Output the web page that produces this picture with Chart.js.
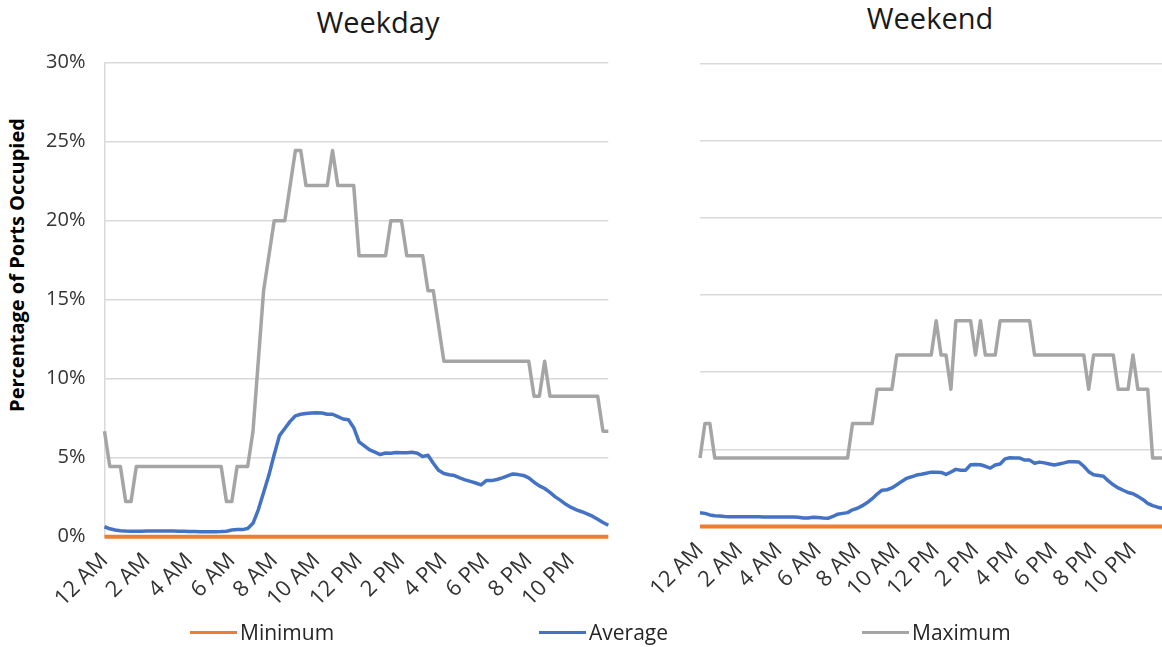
<!DOCTYPE html>
<html>
<head>
<meta charset="utf-8">
<script src="https://cdn.jsdelivr.net/npm/chart.js@4/dist/chart.umd.min.js"></script>
<style>
  html, body { margin: 0; padding: 0; background: #fff; overflow: hidden; width: 1162px; height: 647px; }
  #page { position: relative; width: 1162px; height: 647px; font-family: "Open Sans", sans-serif; color: #262626; }
  .panel { position: absolute; top: 0; }
  .title { position: absolute; width: 300px; text-align: center; font-size: 29px; line-height: 38px; color: #1a1a1a; }
  #ytitle { position: absolute; left: 17px; top: 265px; width: 360px; margin-left: -180px; margin-top: -14px;
            text-align: center; font-size: 20px; font-weight: bold; line-height: 28px; color: #000;
            transform: rotate(-90deg); white-space: nowrap; }
  .legend-item { position: absolute; top: 618px; height: 28px; display: flex; align-items: center; font-size: 21px; color: #262626; }
  .swatch { width: 47px; height: 3px; margin-right: 3px; }
</style>
</head>
<body>
<div id="page">
  <div class="title" style="left:228px; top:3px;">Weekday</div>
  <div class="title" style="left:780px; top:-1px;">Weekend</div>
  <div id="ytitle">Percentage of Ports Occupied</div>

  <div class="panel" style="left:0; width:620px; height:640px;"><canvas id="weekday" width="620" height="640"></canvas></div>
  <div class="panel" style="left:620px; width:550px; height:640px;"><canvas id="weekend" width="550" height="640"></canvas></div>

  <div class="legend-item" style="left:190px;"><span class="swatch" style="background:#ED7D31"></span>Minimum</div>
  <div class="legend-item" style="left:539px;"><span class="swatch" style="background:#4472C4"></span>Average</div>
  <div class="legend-item" style="left:862px;"><span class="swatch" style="background:#A5A5A5"></span>Maximum</div>
</div>

<script>
// Axis labels shown every two hours (one label per 8 quarter-hour slots)
const tickLabels = ["12 AM", "2 AM", "4 AM", "6 AM", "8 AM", "10 AM", "12 PM", "2 PM", "4 PM", "6 PM", "8 PM", "10 PM"];
const slotsPerLabel = 8;
const slotCount = 96;

// Weekday occupancy (% of ports), 15-minute slots starting at midnight
const weekdayMin = [
  0,0,0,0,0,0,0,0, 0,0,0,0,0,0,0,0, 0,0,0,0,0,0,0,0, 0,0,0,0,0,0,0,0,
  0,0,0,0,0,0,0,0, 0,0,0,0,0,0,0,0, 0,0,0,0,0,0,0,0, 0,0,0,0,0,0,0,0,
  0,0,0,0,0,0,0,0, 0,0,0,0,0,0,0,0, 0,0,0,0,0,0,0,0, 0,0,0,0,0,0,0,0
];
const weekdayAvg = [
  0.63, 0.50, 0.42, 0.38, 0.36, 0.35, 0.35, 0.35,
  0.36, 0.36, 0.36, 0.36, 0.36, 0.36, 0.35, 0.34,
  0.33, 0.33, 0.32, 0.32, 0.32, 0.32, 0.33, 0.35,
  0.42, 0.45, 0.45, 0.52, 0.85, 1.70, 2.80, 3.90,
  5.20, 6.40, 6.85, 7.30, 7.65, 7.75, 7.80, 7.83,
  7.85, 7.83, 7.75, 7.75, 7.60, 7.45, 7.40, 6.90,
  6.00, 5.75, 5.50, 5.35, 5.20, 5.30, 5.28, 5.33,
  5.32, 5.32, 5.35, 5.28, 5.08, 5.15, 4.65, 4.20,
  4.00, 3.92, 3.87, 3.72, 3.60, 3.50, 3.40, 3.28,
  3.55, 3.55, 3.62, 3.72, 3.85, 3.97, 3.93, 3.88,
  3.72, 3.45, 3.22, 3.05, 2.80, 2.52, 2.30, 2.05,
  1.85, 1.70, 1.58, 1.45, 1.30, 1.10, 0.90, 0.72
];
const weekdayMax = [
  6.67, 4.44, 4.44, 4.44, 2.22, 2.22, 4.44, 4.44,
  4.44, 4.44, 4.44, 4.44, 4.44, 4.44, 4.44, 4.44,
  4.44, 4.44, 4.44, 4.44, 4.44, 4.44, 4.44, 2.22,
  2.22, 4.44, 4.44, 4.44, 6.67, 11.11, 15.56, 17.78,
  20.00, 20.00, 20.00, 22.22, 24.44, 24.44, 22.22, 22.22,
  22.22, 22.22, 22.22, 24.44, 22.22, 22.22, 22.22, 22.22,
  17.78, 17.78, 17.78, 17.78, 17.78, 17.78, 20.00, 20.00,
  20.00, 17.78, 17.78, 17.78, 17.78, 15.56, 15.56, 13.33,
  11.11, 11.11, 11.11, 11.11, 11.11, 11.11, 11.11, 11.11,
  11.11, 11.11, 11.11, 11.11, 11.11, 11.11, 11.11, 11.11,
  11.11, 8.89, 8.89, 11.11, 8.89, 8.89, 8.89, 8.89,
  8.89, 8.89, 8.89, 8.89, 8.89, 8.89, 6.67, 6.67
];

// Weekend occupancy (% of ports), 15-minute slots starting at midnight
const weekendMin = [
  0,0,0,0,0,0,0,0, 0,0,0,0,0,0,0,0, 0,0,0,0,0,0,0,0, 0,0,0,0,0,0,0,0,
  0,0,0,0,0,0,0,0, 0,0,0,0,0,0,0,0, 0,0,0,0,0,0,0,0, 0,0,0,0,0,0,0,0,
  0,0,0,0,0,0,0,0, 0,0,0,0,0,0,0,0, 0,0,0,0,0,0,0,0, 0,0,0,0,0,0,0,0
];
const weekendAvg = [
  0.89, 0.85, 0.75, 0.70, 0.68, 0.65, 0.63, 0.63,
  0.63, 0.63, 0.63, 0.63, 0.63, 0.62, 0.62, 0.62,
  0.62, 0.62, 0.62, 0.62, 0.60, 0.55, 0.55, 0.60,
  0.58, 0.55, 0.53, 0.65, 0.80, 0.85, 0.90, 1.08,
  1.18, 1.35, 1.55, 1.80, 2.10, 2.35, 2.38, 2.50,
  2.70, 2.92, 3.12, 3.22, 3.33, 3.38, 3.45, 3.52,
  3.52, 3.50, 3.37, 3.53, 3.70, 3.64, 3.65, 4.00,
  4.02, 4.00, 3.90, 3.78, 3.98, 4.05, 4.38, 4.45,
  4.43, 4.43, 4.30, 4.30, 4.10, 4.17, 4.12, 4.05,
  3.98, 4.05, 4.12, 4.20, 4.20, 4.18, 3.90, 3.55,
  3.35, 3.30, 3.25, 2.95, 2.70, 2.50, 2.35, 2.20,
  2.12, 1.95, 1.75, 1.50, 1.35, 1.25, 1.18, 1.10
];
const weekendMax = [
  4.44, 6.67, 6.67, 4.44, 4.44, 4.44, 4.44, 4.44,
  4.44, 4.44, 4.44, 4.44, 4.44, 4.44, 4.44, 4.44,
  4.44, 4.44, 4.44, 4.44, 4.44, 4.44, 4.44, 4.44,
  4.44, 4.44, 4.44, 4.44, 4.44, 4.44, 4.44, 6.67,
  6.67, 6.67, 6.67, 6.67, 8.89, 8.89, 8.89, 8.89,
  11.11, 11.11, 11.11, 11.11, 11.11, 11.11, 11.11, 11.11,
  13.33, 11.11, 11.11, 8.89, 13.33, 13.33, 13.33, 13.33,
  11.11, 13.33, 11.11, 11.11, 11.11, 13.33, 13.33, 13.33,
  13.33, 13.33, 13.33, 13.33, 11.11, 11.11, 11.11, 11.11,
  11.11, 11.11, 11.11, 11.11, 11.11, 11.11, 11.11, 8.89,
  11.11, 11.11, 11.11, 11.11, 11.11, 8.89, 8.89, 8.89,
  11.11, 8.89, 8.89, 8.89, 4.44, 4.44, 4.44, 4.44
];

const yMax = 30;
const yStep = 5;

// Category slots: only every 8th slot carries a visible label
const slots = [];
for (let i = 0; i < slotCount; i++) {
  slots.push(i % slotsPerLabel === 0 ? tickLabels[i / slotsPerLabel] : "");
}

const FONT = "'Open Sans', sans-serif";
const GRID = "#d9d9d9";
const TEXT = "#333333";

function series(label, data, color, width) {
  return {
    label, data,
    borderColor: color, backgroundColor: color,
    borderWidth: width, pointRadius: 0, pointHoverRadius: 0,
    tension: 0, fill: false, clip: false,
    borderJoinStyle: "round", borderCapStyle: "butt"
  };
}

function makeChart(id, minData, avgData, maxData, box) {
  return new Chart(document.getElementById(id), {
    type: "line",
    data: {
      labels: slots,
      datasets: [
        series("Minimum", minData, "#ED7D31", 4),
        series("Average", avgData, "#4472C4", 3.5),
        series("Maximum", maxData, "#A5A5A5", 3.5)
      ]
    },
    options: {
      responsive: false,
      animation: false,
      devicePixelRatio: 1,
      events: [],
      layout: { padding: { top: box.top, right: box.right, left: 0, bottom: 0 } },
      plugins: { legend: { display: false }, title: { display: false }, tooltip: { enabled: false } },
      scales: {
        x: {
          offset: false,
          grid: { display: false, drawTicks: false },
          border: { display: false },
          ticks: {
            autoSkip: false, minRotation: 45, maxRotation: 45, padding: 11,
            color: TEXT, font: { family: FONT, size: 22 }
          },
          afterFit: s => { s.height = box.xHeight; s.paddingLeft = 0; s.paddingRight = 0; }
        },
        y: {
          min: 0, max: yMax,
          grid: { color: GRID, lineWidth: 1.5, drawTicks: false },
          border: { display: box.showAxisLine, color: GRID, width: 1.5 },
          ticks: {
            display: box.showTicks, stepSize: yStep, padding: 19,
            color: TEXT, font: { family: FONT, size: 20 },
            callback: v => v + "%"
          },
          afterFit: s => { s.width = box.yWidth; s.paddingTop = 0; s.paddingBottom = 0; }
        }
      }
    }
  });
}

makeChart("weekday", weekdayMin, weekdayAvg, weekdayMax,
  { top: 62.7, right: 11.7, yWidth: 104.5, xHeight: 640 - 536.7, showTicks: true, showAxisLine: true });
makeChart("weekend", weekendMin, weekendAvg, weekendMax,
  { top: 63.3, right: 2.6, yWidth: 80, xHeight: 640 - 526.5, showTicks: false, showAxisLine: false });
</script>
</body>
</html>
